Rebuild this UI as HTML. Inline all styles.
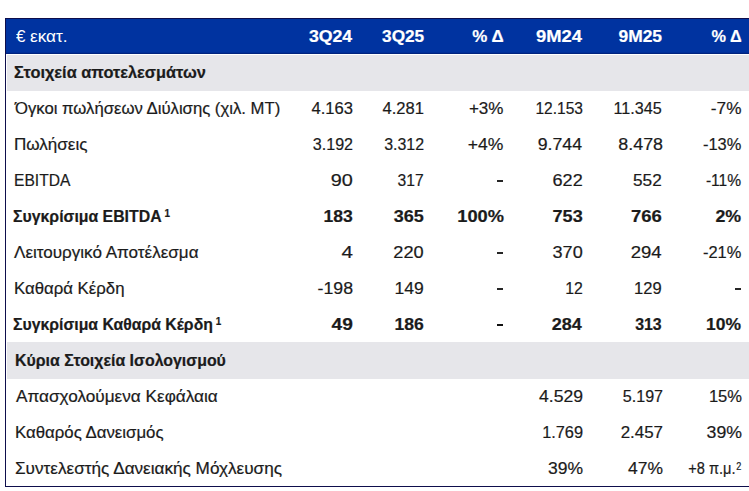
<!DOCTYPE html><html><head><meta charset="utf-8"><style>
html,body{margin:0;padding:0;background:#fff;}
body{width:749px;height:491px;position:relative;overflow:hidden;font-family:"Liberation Sans",sans-serif;font-size:16px;color:#1b1b1b;}
.row{position:absolute;left:0;width:749px;height:36px;}
.head{color:#fff;font-weight:bold;}
.head .L{font-weight:normal;-webkit-text-stroke:0;}
.sec{font-weight:bold;}
.b{font-weight:bold;}
.t{position:absolute;white-space:nowrap;line-height:36px;top:1px;-webkit-text-stroke:0.2px currentColor;}
.L{transform-origin:0 50%;}
.R{transform-origin:100% 50%;}
sup{font-size:10px;line-height:0;vertical-align:0;position:relative;top:-5px;margin-left:3px;}
sup.s2{top:-4px;margin-left:1px;}
.bg{position:absolute;}
</style></head><body>
<div class="bg" style="left:5px;top:18px;width:744px;height:36px;background:#0033a0"></div>
<div class="bg" style="left:7px;top:55px;width:742px;height:36px;background:#e6e6ea"></div>
<div class="bg" style="left:7px;top:342px;width:742px;height:37px;background:#e6e6ea"></div>
<div class="bg" style="left:5px;top:18px;width:744px;height:1px;background:#0e0e4c"></div>
<div class="bg" style="left:5px;top:52px;width:744px;height:1px;background:#002e98"></div>
<div class="bg" style="left:5px;top:53px;width:744px;height:1px;background:#00237e"></div>
<div class="bg" style="left:5px;top:18px;width:1px;height:469px;background:#0e0e4c"></div>
<div class="bg" style="left:5px;top:486px;width:744px;height:1px;background:#0e0e4c"></div>
<div class="row head" style="top:18px">
<span class="t L" style="left:15.60px;transform:scaleX(1.0617)">€</span>
<span class="t L" style="left:30.00px;transform:scaleX(1.0761)">εκατ.</span>
<span class="t R" style="right:397.00px;transform:scaleX(1.1053)">3Q24</span>
<span class="t R" style="right:325.10px;transform:scaleX(1.0743)">3Q25</span>
<span class="t R" style="right:245.00px;transform:scaleX(1.0580)">% Δ</span>
<span class="t R" style="right:167.00px;transform:scaleX(1.1492)">9M24</span>
<span class="t R" style="right:87.40px;transform:scaleX(1.0875)">9M25</span>
<span class="t R" style="right:7.00px;transform:scaleX(1.0158)">% Δ</span>
</div>
<div class="row sec" style="top:54px">
<span class="t L" style="left:14.00px;transform:scaleX(1.0226)">Στοιχεία αποτελεσμάτων</span>
</div>
<div class="row" style="top:90px">
<span class="t L" style="left:15.00px;transform:scaleX(1.0435)">Όγκοι πωλήσεων Διύλισης (χιλ. MT)</span>
<span class="t R" style="right:396.00px;transform:scaleX(1.0364)">4.163</span>
<span class="t R" style="right:325.10px;transform:scaleX(1.0364)">4.281</span>
<span class="t R" style="right:246.00px;transform:scaleX(1.0645)">+3%</span>
<span class="t R" style="right:166.00px;transform:scaleX(0.9705)">12.153</span>
<span class="t R" style="right:87.40px;transform:scaleX(1.0091)">11.345</span>
<span class="t R" style="right:8.00px;transform:scaleX(1.0753)">-7%</span>
</div>
<div class="row" style="top:126px">
<span class="t L" style="left:14.20px;transform:scaleX(1.0658)">Πωλήσεις</span>
<span class="t R" style="right:396.00px;transform:scaleX(1.0059)">3.192</span>
<span class="t R" style="right:325.10px;transform:scaleX(0.9958)">3.312</span>
<span class="t R" style="right:246.00px;transform:scaleX(1.0968)">+4%</span>
<span class="t R" style="right:167.00px;transform:scaleX(1.1059)">9.744</span>
<span class="t R" style="right:86.40px;transform:scaleX(1.1161)">8.478</span>
<span class="t R" style="right:8.00px;transform:scaleX(1.0278)">-13%</span>
</div>
<div class="row" style="top:162px">
<span class="t L" style="left:14.20px;transform:scaleX(0.9754)">EBITDA</span>
<span class="t R" style="right:396.00px;transform:scaleX(1.2407)">90</span>
<span class="t R" style="right:325.10px;transform:scaleX(0.9772)">317</span>
<div class="bg" style="left:497.3px;top:18px;width:5.7px;height:2px;background:#262626"></div>
<span class="t R" style="right:166.00px;transform:scaleX(1.1292)">622</span>
<span class="t R" style="right:87.40px;transform:scaleX(1.0733)">552</span>
<span class="t R" style="right:8.00px;transform:scaleX(0.9755)">-11%</span>
</div>
<div class="row b" style="top:198px">
<span class="t L" style="left:13.20px;transform:scaleX(0.9898)">Συγκρίσιμα EBITDA<sup>1</sup></span>
<span class="t R" style="right:396.00px;transform:scaleX(1.0970)">183</span>
<span class="t R" style="right:325.10px;transform:scaleX(1.1237)">365</span>
<span class="t R" style="right:245.00px;transform:scaleX(1.1408)">100%</span>
<span class="t R" style="right:166.00px;transform:scaleX(1.1292)">753</span>
<span class="t R" style="right:87.40px;transform:scaleX(1.1534)">766</span>
<span class="t R" style="right:8.00px;transform:scaleX(1.1114)">2%</span>
</div>
<div class="row" style="top:234px">
<span class="t L" style="left:14.20px;transform:scaleX(1.0659)">Λειτουργικό Αποτέλεσμα</span>
<span class="t R" style="right:396.00px;transform:scaleX(1.2853)">4</span>
<span class="t R" style="right:325.10px;transform:scaleX(1.1370)">220</span>
<div class="bg" style="left:497.3px;top:18px;width:5.7px;height:2px;background:#262626"></div>
<span class="t R" style="right:166.00px;transform:scaleX(1.1292)">370</span>
<span class="t R" style="right:87.40px;transform:scaleX(1.1600)">294</span>
<span class="t R" style="right:8.00px;transform:scaleX(1.0278)">-21%</span>
</div>
<div class="row" style="top:270px">
<span class="t L" style="left:14.20px;transform:scaleX(1.0486)">Καθαρά Κέρδη</span>
<span class="t R" style="right:396.00px;transform:scaleX(1.1075)">-198</span>
<span class="t R" style="right:325.10px;transform:scaleX(1.0970)">149</span>
<div class="bg" style="left:497.3px;top:18px;width:5.7px;height:2px;background:#262626"></div>
<span class="t R" style="right:166.00px;transform:scaleX(0.9893)">12</span>
<span class="t R" style="right:87.40px;transform:scaleX(1.0334)">129</span>
<div class="bg" style="left:735.3px;top:18px;width:5.7px;height:2px;background:#262626"></div>
</div>
<div class="row b" style="top:306px">
<span class="t L" style="left:13.20px;transform:scaleX(0.9876)">Συγκρίσιμα Καθαρά Κέρδη<sup>1</sup></span>
<span class="t R" style="right:396.00px;transform:scaleX(1.1960)">49</span>
<span class="t R" style="right:325.10px;transform:scaleX(1.0970)">186</span>
<div class="bg" style="left:497.3px;top:18px;width:5.7px;height:2px;background:#111"></div>
<span class="t R" style="right:167.00px;transform:scaleX(1.1247)">284</span>
<span class="t R" style="right:87.40px;transform:scaleX(0.9936)">313</span>
<span class="t R" style="right:8.00px;transform:scaleX(1.0912)">10%</span>
</div>
<div class="row sec" style="top:342px">
<span class="t L" style="left:14.60px;transform:scaleX(0.9943)">Κύρια Στοιχεία Ισολογισμού</span>
</div>
<div class="row" style="top:378px">
<span class="t L" style="left:15.60px;transform:scaleX(1.0738)">Απασχολούμενα Κεφάλαια</span>
<span class="t R" style="right:166.00px;transform:scaleX(1.0976)">4.529</span>
<span class="t R" style="right:86.40px;transform:scaleX(1.0063)">5.197</span>
<span class="t R" style="right:7.00px;transform:scaleX(1.0344)">15%</span>
</div>
<div class="row" style="top:414px">
<span class="t L" style="left:14.60px;transform:scaleX(1.0500)">Καθαρός Δανεισμός</span>
<span class="t R" style="right:166.00px;transform:scaleX(1.0214)">1.769</span>
<span class="t R" style="right:86.40px;transform:scaleX(1.0581)">2.457</span>
<span class="t R" style="right:7.00px;transform:scaleX(1.1069)">39%</span>
</div>
<div class="row" style="top:450px">
<span class="t L" style="left:14.60px;transform:scaleX(1.0718)">Συντελεστής Δανειακής Μόχλευσης</span>
<span class="t R" style="right:166.00px;transform:scaleX(1.0944)">39%</span>
<span class="t R" style="right:86.40px;transform:scaleX(1.0912)">47%</span>
<span class="t R" style="right:7.40px;transform:scaleX(0.9099)">+8 π.μ.<sup class="s2">2</sup></span>
</div>
</body></html>
